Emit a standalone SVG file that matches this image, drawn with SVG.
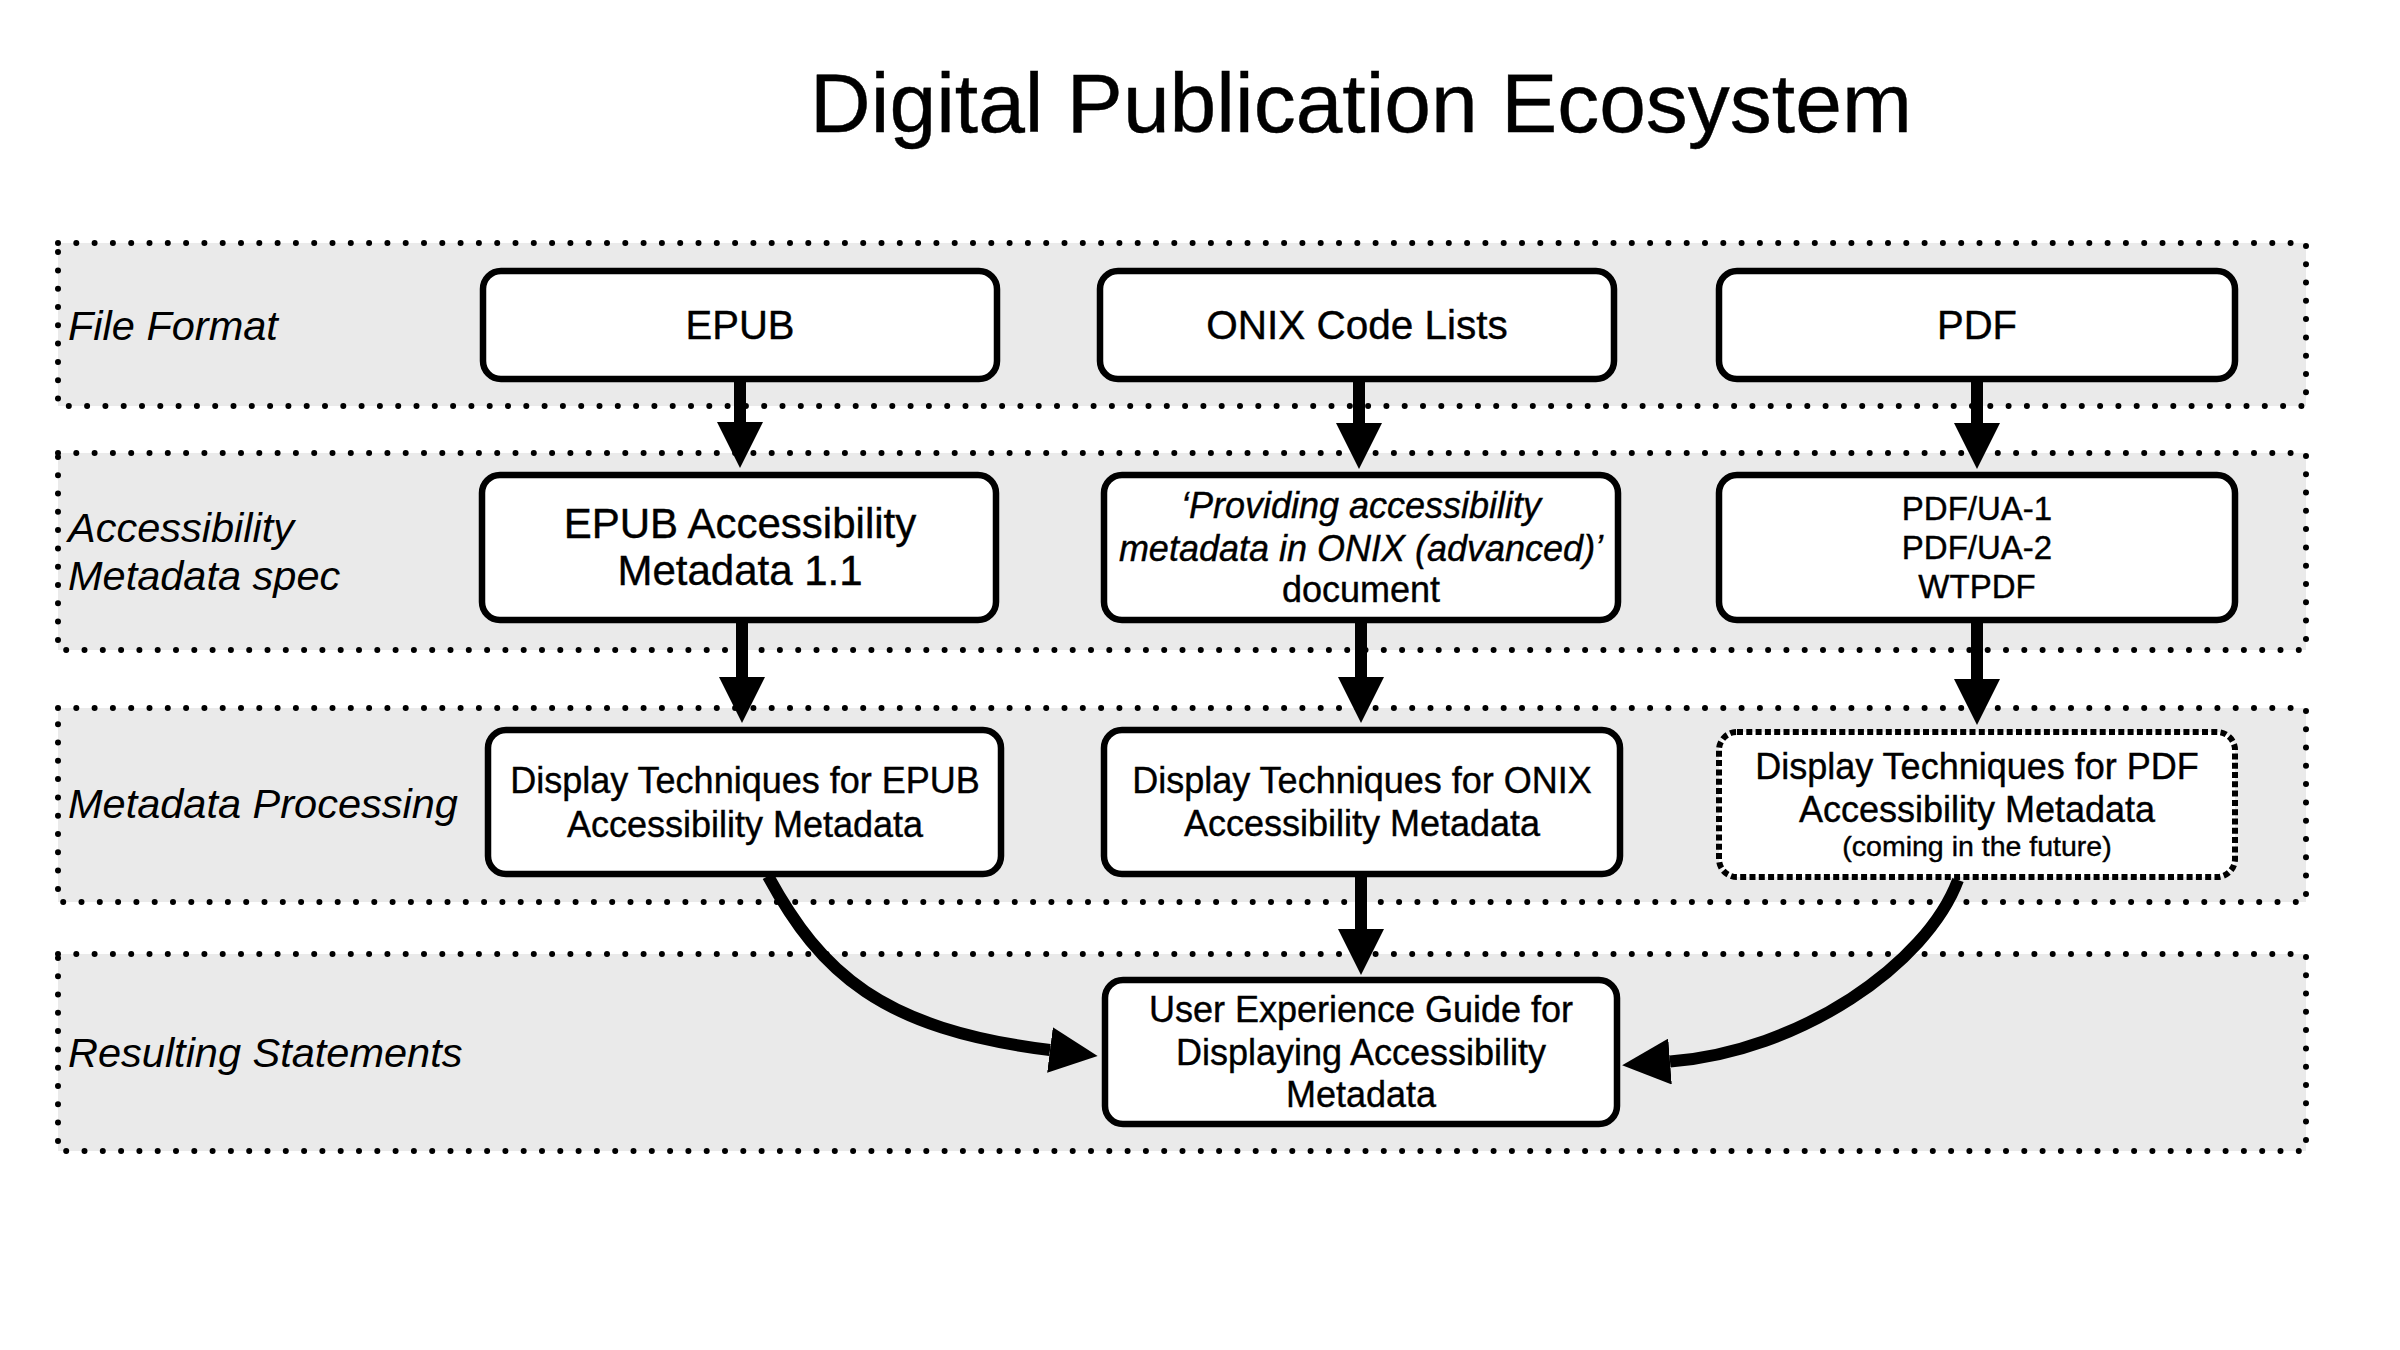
<svg xmlns="http://www.w3.org/2000/svg" width="2400" height="1350" viewBox="0 0 2400 1350">
  <style>
    .lane { fill: #EAEAEA; stroke: #000; stroke-width: 6; stroke-dasharray: 0 18.3; stroke-linecap: round; }
    .box { fill: #fff; stroke: #000; stroke-width: 6.5; }
    .dbox { fill: #fff; stroke: #000; stroke-width: 6; stroke-dasharray: 6 3.3; }
    .t { font-family: "Liberation Sans", Arial, sans-serif; fill: #000; text-anchor: middle; stroke: #000; stroke-width: 0.4; }
    .lbl { font-family: "Liberation Sans", Arial, sans-serif; font-style: italic; font-size: 41.5px; fill: #000; }
    .conn { fill: none; stroke: #000; stroke-width: 12; }
    .curve { fill: none; stroke: #000; stroke-width: 12; }
  </style>
  <defs>
    <marker id="ah" viewBox="0 0 46 46" refX="0" refY="23" markerWidth="46" markerHeight="46" orient="auto" markerUnits="userSpaceOnUse">
      <path d="M0,0 L46,23 L0,46 z" fill="#000"/>
    </marker>
    <marker id="ahc" viewBox="0 0 48 46" refX="0" refY="23" markerWidth="48" markerHeight="46" orient="auto" markerUnits="userSpaceOnUse">
      <path d="M0,0 L48,23 L0,46 z" fill="#000"/>
    </marker>
  </defs>

  <rect width="2400" height="1350" fill="#fff"/>

  <text id="title" x="1361" y="132" class="t" font-size="84" stroke-width="1.3">Digital Publication Ecosystem</text>

  <g id="lanes">
    <g id="lane-file-format">
      <rect class="lane" x="58" y="243" width="2248" height="163"/>
      <text class="lbl" x="68" y="340">File Format</text>
    </g>
    <g id="lane-spec">
      <rect class="lane" x="58" y="453" width="2248" height="197"/>
      <text class="lbl" x="68" y="542">Accessibility</text>
      <text class="lbl" x="68" y="590">Metadata spec</text>
    </g>
    <g id="lane-processing">
      <rect class="lane" x="58" y="708" width="2248" height="194"/>
      <text class="lbl" x="68" y="818">Metadata Processing</text>
    </g>
    <g id="lane-statements">
      <rect class="lane" x="58" y="954" width="2248" height="197"/>
      <text class="lbl" x="68" y="1067">Resulting Statements</text>
    </g>
  </g>

  <g id="connectors">
    <line class="conn" x1="740" y1="380" x2="740" y2="422" marker-end="url(#ah)"/>
    <line class="conn" x1="1359" y1="380" x2="1359" y2="423" marker-end="url(#ah)"/>
    <line class="conn" x1="1977" y1="380" x2="1977" y2="423" marker-end="url(#ah)"/>
    <line class="conn" x1="742" y1="622" x2="742" y2="677" marker-end="url(#ah)"/>
    <line class="conn" x1="1361" y1="622" x2="1361" y2="677" marker-end="url(#ah)"/>
    <line class="conn" x1="1977" y1="622" x2="1977" y2="679" marker-end="url(#ah)"/>
    <line class="conn" x1="1361" y1="876" x2="1361" y2="929" marker-end="url(#ah)"/>
    <path class="curve" d="M768,876 C821,973 881,1029 1050,1050" marker-end="url(#ahc)"/>
    <path class="curve" d="M1958,880 C1926.5,964.6 1799.6,1051.5 1670,1061.5" marker-end="url(#ahc)"/>
  </g>

  <g id="node-epub">
    <rect class="box" x="483" y="271" width="514" height="108" rx="18"/>
    <text class="t" x="740" y="339" font-size="40">EPUB</text>
  </g>
  <g id="node-onix-code-lists">
    <rect class="box" x="1100" y="271" width="514" height="108" rx="18"/>
    <text class="t" x="1357" y="339" font-size="40.5">ONIX Code Lists</text>
  </g>
  <g id="node-pdf">
    <rect class="box" x="1719" y="271" width="516" height="108" rx="18"/>
    <text class="t" x="1977" y="339" font-size="40">PDF</text>
  </g>

  <g id="node-epub-a11y">
    <rect class="box" x="482" y="475" width="514" height="145" rx="18"/>
    <text class="t" x="740" y="538" font-size="42">EPUB Accessibility</text>
    <text class="t" x="740" y="585" font-size="42">Metadata 1.1</text>
  </g>
  <g id="node-onix-doc">
    <rect class="box" x="1104" y="475" width="514" height="145" rx="18"/>
    <text class="t" x="1361" y="518" font-size="36" font-style="italic">‘Providing accessibility</text>
    <text class="t" x="1361" y="561" font-size="36" font-style="italic">metadata in ONIX (advanced)’</text>
    <text class="t" x="1361" y="602" font-size="36">document</text>
  </g>
  <g id="node-pdf-ua">
    <rect class="box" x="1719" y="475" width="516" height="145" rx="18"/>
    <text class="t" x="1977" y="520" font-size="33">PDF/UA-1</text>
    <text class="t" x="1977" y="559" font-size="33">PDF/UA-2</text>
    <text class="t" x="1977" y="598" font-size="33">WTPDF</text>
  </g>

  <g id="node-display-epub">
    <rect class="box" x="488" y="730" width="513" height="144" rx="18"/>
    <text class="t" x="745" y="793" font-size="36">Display Techniques for EPUB</text>
    <text class="t" x="745" y="837" font-size="36">Accessibility Metadata</text>
  </g>
  <g id="node-display-onix">
    <rect class="box" x="1104" y="730" width="516" height="144" rx="18"/>
    <text class="t" x="1362" y="793" font-size="36">Display Techniques for ONIX</text>
    <text class="t" x="1362" y="836" font-size="36">Accessibility Metadata</text>
  </g>
  <g id="node-display-pdf">
    <rect class="dbox" x="1719" y="732" width="516" height="145" rx="18"/>
    <text class="t" x="1977" y="779" font-size="36">Display Techniques for PDF</text>
    <text class="t" x="1977" y="822" font-size="36">Accessibility Metadata</text>
    <text class="t" x="1977" y="856" font-size="28.5">(coming in the future)</text>
  </g>

  <g id="node-ux-guide">
    <rect class="box" x="1105" y="980" width="512" height="144" rx="18"/>
    <text class="t" x="1361" y="1022" font-size="36">User Experience Guide for</text>
    <text class="t" x="1361" y="1065" font-size="36">Displaying Accessibility</text>
    <text class="t" x="1361" y="1107" font-size="36">Metadata</text>
  </g>
</svg>
